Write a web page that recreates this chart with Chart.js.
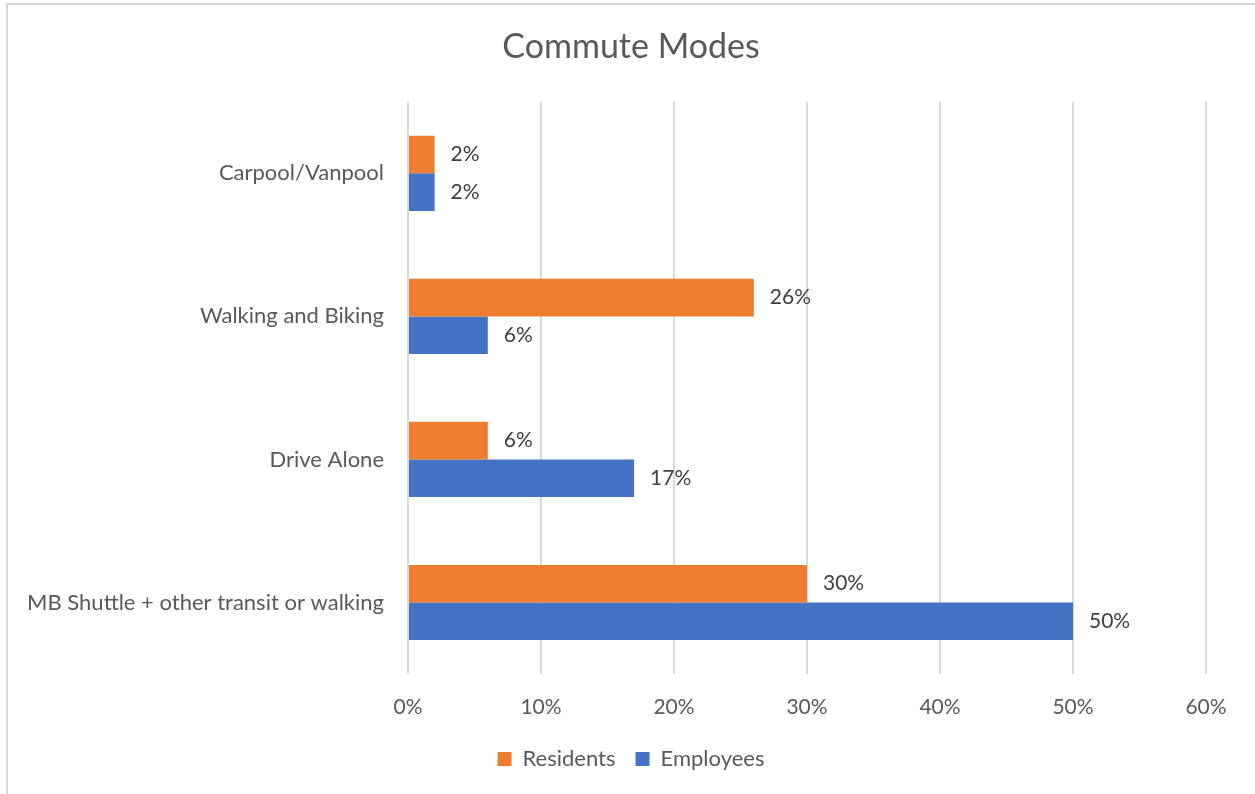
<!DOCTYPE html>
<html><head><meta charset="utf-8">
<script src="https://cdn.jsdelivr.net/npm/chart.js@4"></script>
<style>
html,body{margin:0;padding:0;background:#fff;overflow:hidden;}
#frame{position:absolute;left:6px;top:3px;right:0;bottom:0;border-left:2px solid #d9d9d9;border-top:2px solid #d9d9d9;}
#wrap{position:absolute;left:0;top:0;width:1255px;height:794px;}
</style></head>
<body>
<div id="frame"></div>
<div id="wrap"><canvas id="c" width="1255" height="794"></canvas></div>
<script>
const categories = ["Carpool/Vanpool", "Walking and Biking", "Drive Alone", "MB Shuttle + other transit or walking"];
const residents = [2, 26, 6, 30];
const employees = [2, 6, 17, 50];
const seriesNames = ["Residents", "Employees"];
const tickValues = [0, 10, 20, 30, 40, 50, 60];

const FONT = "Lato, 'Open Sans', sans-serif";
const TXT = "#595959";

const labelPlugin = {
  id: 'barLabels',
  afterDatasetsDraw(chart) {
    const ctx = chart.ctx;
    ctx.save();
    ctx.font = "21px " + FONT;
    ctx.fillStyle = "#404040";
    ctx.textBaseline = "middle";
    ctx.textAlign = "left";
    chart.data.datasets.forEach((ds, i) => {
      const meta = chart.getDatasetMeta(i);
      meta.data.forEach((bar, j) => {
        ctx.fillText(ds.data[j] + "%", bar.x + 16, bar.y);
      });
    });
    ctx.restore();
  }
};

new Chart(document.getElementById('c'), {
  type: 'bar',
  data: {
    labels: categories,
    datasets: [
      { label: seriesNames[0], data: residents, backgroundColor: "#ED7D31", categoryPercentage: 0.525, barPercentage: 1.0 },
      { label: seriesNames[1], data: employees, backgroundColor: "#4472C4", categoryPercentage: 0.525, barPercentage: 1.0 }
    ]
  },
  options: {
    indexAxis: 'y',
    responsive: false,
    animation: false,
    layout: { padding: { left: 7, right: 0, top: 0, bottom: 14 } },
    plugins: {
      title: { display: true, text: "Commute Modes", color: TXT, font: { family: FONT, size: 34, weight: 'normal' }, padding: { top: 27, bottom: 34 } },
      legend: {
        position: 'bottom',
        labels: { color: TXT, font: { family: FONT, size: 22 }, boxWidth: 14, boxHeight: 14, padding: 20 }
      },
      tooltip: { enabled: false }
    },
    scales: {
      x: {
        min: 0, max: 60,
        afterBuildTicks(axis) { axis.ticks = tickValues.map(v => ({ value: v })); },
        ticks: { color: TXT, font: { family: FONT, size: 21 }, padding: 21, callback: v => v + "%" },
        grid: { color: "#d9d9d9", lineWidth: 2, drawTicks: false },
        border: { display: false },
        afterFit(axis) { axis.height = 54; }
      },
      y: {
        ticks: { color: TXT, font: { family: FONT, size: 22 }, padding: 24 },
        grid: { display: false, drawTicks: false },
        border: { display: false },
        afterFit(axis) { axis.width = 401; }
      },
      yr: {
        type: 'linear', position: 'right', display: true,
        ticks: { display: false },
        grid: { display: false, drawTicks: false },
        border: { display: false },
        afterFit(axis) { axis.width = 49; }
      }
    }
  },
  plugins: [labelPlugin]
});
</script>
</body></html>
